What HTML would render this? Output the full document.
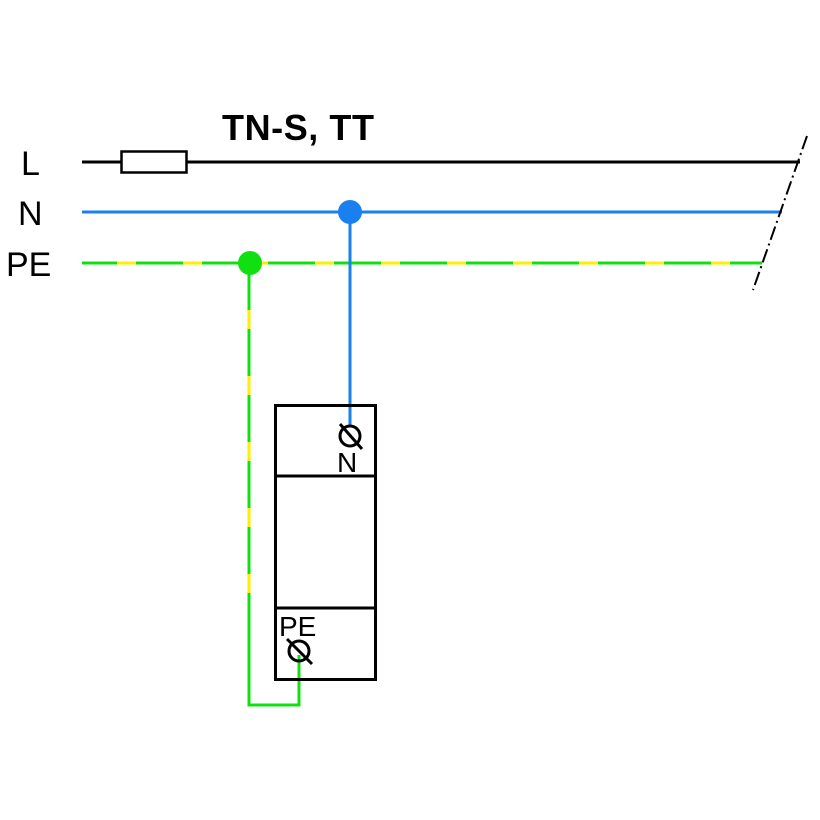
<!DOCTYPE html>
<html><head><style>body{margin:0;background:#fff}svg{display:block}</style></head><body>
<svg width="820" height="820" xmlns="http://www.w3.org/2000/svg" font-family="Liberation Sans, sans-serif">
<rect width="820" height="820" fill="#fff"/>
<text x="21" y="175" font-size="34">L</text>
<text x="18" y="225" font-size="34">N</text>
<text x="6" y="276" font-size="34">PE</text>
<text x="222" y="140" font-size="36" font-weight="bold" textLength="152">TN-S, TT</text>
<line x1="82" y1="162" x2="800" y2="162" stroke="#000" stroke-width="3"/>
<rect x="121.5" y="151.5" width="65" height="21" fill="#fff" stroke="#000" stroke-width="2.5"/>
<line x1="82" y1="212" x2="782" y2="212" stroke="#1a80f0" stroke-width="3"/>
<line x1="82" y1="263" x2="762" y2="263" stroke="#ffee00" stroke-width="3"/>
<line x1="82" y1="263" x2="762" y2="263" stroke="#10e010" stroke-width="3" stroke-dasharray="47 19" stroke-dashoffset="12"/>
<line x1="807" y1="136" x2="753" y2="290" stroke="#000" stroke-width="2" stroke-dasharray="14 4 2 4"/>
<line x1="350" y1="212" x2="350" y2="425" stroke="#1a80f0" stroke-width="3"/>
<circle cx="350" cy="212" r="12" fill="#1a80f0"/>
<line x1="249" y1="263" x2="249" y2="705" stroke="#ffee00" stroke-width="3"/>
<line x1="249" y1="263" x2="249" y2="705" stroke="#10e010" stroke-width="3" stroke-dasharray="47 19"/>
<polyline points="249,640 249,705 299,705 299,655" fill="none" stroke="#10e010" stroke-width="3"/>
<circle cx="250" cy="263" r="12" fill="#10e010"/>
<rect x="275.5" y="405.5" width="100" height="274" fill="none" stroke="#000" stroke-width="3"/>
<line x1="275" y1="476" x2="376" y2="476" stroke="#000" stroke-width="3"/>
<line x1="275" y1="608" x2="376" y2="608" stroke="#000" stroke-width="3"/>
<circle cx="350" cy="436" r="10" fill="none" stroke="#000" stroke-width="3"/>
<line x1="340" y1="424" x2="362" y2="449" stroke="#000" stroke-width="3"/>
<text x="337" y="472" font-size="28">N</text>
<text x="279" y="636" font-size="28">PE</text>
<circle cx="299" cy="651" r="10" fill="none" stroke="#000" stroke-width="3"/>
<line x1="287" y1="639" x2="312" y2="664" stroke="#000" stroke-width="3"/>
</svg>
</body></html>
